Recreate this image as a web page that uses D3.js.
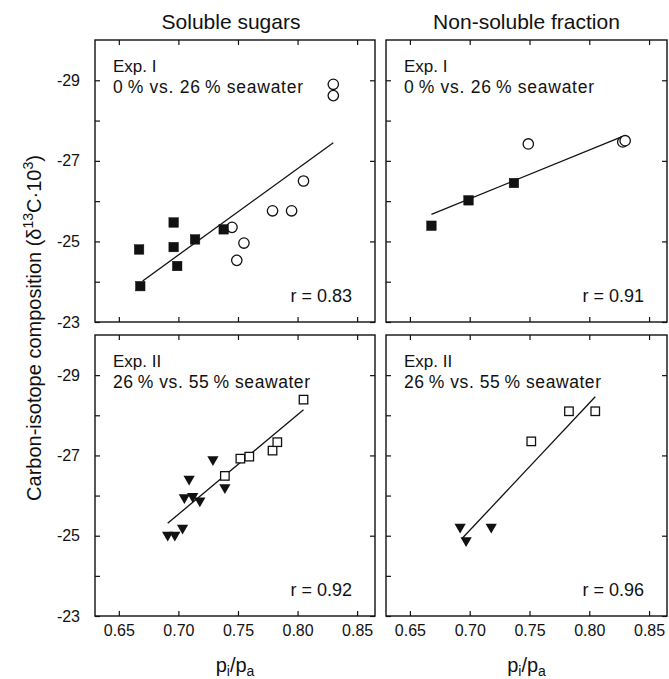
<!DOCTYPE html>
<html><head><meta charset="utf-8">
<script src="https://cdn.jsdelivr.net/npm/d3@7"></script>
<style>body{margin:0;background:#fff}svg{display:block}text{font-family:"Liberation Sans",Arial,sans-serif;fill:#111}</style>
</head><body>
<svg id="c" width="669" height="679"></svg>
<script>
const xTicks = [0.65, 0.70, 0.75, 0.80, 0.85];
const yTicksMajor = [-29, -27, -25, -23];
const yTicksAll = [-29, -28, -27, -26, -25, -24, -23];
const columnTitles = ["Soluble sugars", "Non-soluble fraction"];

// Panel A: Exp I, soluble sugars
const aFilled = [[0.667,-24.80],[0.668,-23.89],[0.696,-25.47],[0.696,-24.86],[0.699,-24.39],[0.714,-25.05],[0.738,-25.30]];
const aOpen = [[0.745,-25.35],[0.755,-24.96],[0.749,-24.53],[0.779,-25.76],[0.795,-25.76],[0.805,-26.50],[0.830,-28.90],[0.830,-28.62]];
const aLine = [[0.670,-24.02],[0.830,-27.45]];
// Panel B: Exp I, non-soluble
const bFilled = [[0.668,-25.39],[0.699,-26.02],[0.737,-26.45]];
const bOpen = [[0.749,-27.42],[0.828,-27.47],[0.830,-27.50]];
const bLine = [[0.668,-25.67],[0.828,-27.61]];
// Panel C: Exp II, soluble sugars
const cFilled = [[0.691,-25.02],[0.697,-25.02],[0.7035,-25.19],[0.705,-25.95],[0.709,-26.41],[0.712,-25.98],[0.718,-25.87],[0.729,-26.90],[0.739,-26.20]];
const cOpen = [[0.739,-26.49],[0.752,-26.92],[0.7595,-26.97],[0.779,-27.12],[0.783,-27.33],[0.805,-28.39]];
const cLine = [[0.691,-25.31],[0.805,-28.14]];
// Panel D: Exp II, non-soluble
const dFilled = [[0.692,-25.22],[0.697,-24.88],[0.718,-25.22]];
const dOpen = [[0.7515,-27.35],[0.783,-28.10],[0.805,-28.10]];
const dLine = [[0.6936,-24.93],[0.805,-28.46]];

const expLabels = [["Exp. I","0\u2009% vs. 26\u2009% seawater"],["Exp. II","26\u2009% vs. 55\u2009% seawater"]];
const rValues = ["r = 0.83","r = 0.91","r = 0.92","r = 0.96"];

const FONT = "Liberation Sans, Arial, sans-serif";
const svg = d3.select("#c");
const colX = [[95,375],[386,667]];
const rowY = [[40,322],[335,616]];
const sublineLen = [190, 197];

const panels = [
  {col:0,row:0,filled:aFilled,open:aOpen,line:aLine,fm:"square",om:"circle",r:rValues[0]},
  {col:1,row:0,filled:bFilled,open:bOpen,line:bLine,fm:"square",om:"circle",r:rValues[1]},
  {col:0,row:1,filled:cFilled,open:cOpen,line:cLine,fm:"tri",om:"square",r:rValues[2]},
  {col:1,row:1,filled:dFilled,open:dOpen,line:dLine,fm:"tri",om:"square",r:rValues[3]}
];

panels.forEach(p => {
  const [x0,x1] = colX[p.col], [y0,y1] = rowY[p.row];
  const x = d3.scaleLinear().domain([0.63,0.865]).range([x0,x1]);
  const y = d3.scaleLinear().domain([-30,-23]).range([y0,y1]);
  const g = svg.append("g");
  g.append("rect").attr("x",x0).attr("y",y0).attr("width",x1-x0).attr("height",y1-y0)
    .attr("fill","none").attr("stroke","#111").attr("stroke-width",1.4);
  const style = s => { s.select(".domain").remove(); s.selectAll("line").attr("stroke","#111").attr("stroke-width",1.2); };
  g.append("g").attr("transform",`translate(0,${y0})`)
    .call(d3.axisTop(x).tickValues(xTicks).tickSizeInner(-5).tickSizeOuter(0).tickFormat("")).call(style);
  const bot = g.append("g").attr("transform",`translate(0,${y1})`)
    .call(d3.axisBottom(x).tickValues(xTicks).tickSizeInner(-5).tickSizeOuter(0).tickPadding(9)
      .tickFormat(p.row===1 ? d3.format(".2f") : "")).call(style);
  bot.selectAll("text").attr("font-size",16).attr("font-family",FONT).attr("fill","#111");
  const left = g.append("g").attr("transform",`translate(${x0},0)`)
    .call(d3.axisLeft(y).tickValues(yTicksAll).tickSizeInner(-5).tickSizeOuter(0).tickPadding(15)
      .tickFormat(d => (p.col===0 && yTicksMajor.includes(d)) ? String(d) : "")).call(style);
  left.selectAll("text").attr("font-size",16).attr("font-family",FONT).attr("fill","#111");
  g.append("g").attr("transform",`translate(${x1},0)`)
    .call(d3.axisRight(y).tickValues(yTicksMajor).tickSizeInner(-5).tickSizeOuter(0).tickFormat("")).call(style);

  // regression line
  g.append("path").datum(p.line).attr("d",d3.line().x(d=>x(d[0])).y(d=>y(d[1])))
    .attr("stroke","#111").attr("stroke-width",1.3).attr("fill","none");

  const draw = (data, kind, filled) => {
    data.forEach(d => {
      const cx = x(d[0]), cy = y(d[1]);
      if (kind === "circle") {
        g.append("circle").attr("cx",cx).attr("cy",cy).attr("r",5.2)
          .attr("fill",filled?"#111":"#fff").attr("stroke","#111").attr("stroke-width",1.3);
      } else if (kind === "square") {
        const s = filled ? 9.5 : 8.5;
        g.append("rect").attr("x",cx-s/2).attr("y",cy-s/2).attr("width",s).attr("height",s)
          .attr("fill",filled?"#111":"#fff").attr("stroke","#111").attr("stroke-width",filled?0.5:1.3);
      } else {
        g.append("path").attr("d",d3.symbol(d3.symbolTriangle,55)())
          .attr("transform",`translate(${cx},${cy}) rotate(180)`).attr("fill","#111");
      }
    });
  };
  draw(p.open, p.om, false);
  draw(p.filled, p.fm, true);

  const el = expLabels[p.row];
  g.append("text").attr("x",x0+18).attr("y",y0+32).attr("font-size",17).text(el[0]);
  g.append("text").attr("x",x0+18).attr("y",y0+53).attr("font-size",17.5)
    .attr("textLength",sublineLen[p.row]).attr("lengthAdjust","spacing").text(el[1]);
  g.append("text").attr("x",x1-23).attr("y",y1-20).attr("text-anchor","end").attr("font-size",18).text(p.r);
});

columnTitles.forEach((t,i) => {
  svg.append("text").attr("x",(colX[i][0]+colX[i][1])/2 - (i===0?4:0)).attr("y",29).attr("text-anchor","middle")
    .attr("font-size",21).text(t);
  const xl = svg.append("text").attr("x",(colX[i][0]+colX[i][1])/2).attr("y",672).attr("text-anchor","middle").attr("font-size",20);
  xl.append("tspan").text("p");
  xl.append("tspan").attr("font-size",14).attr("dy",4).text("i");
  xl.append("tspan").attr("dy",-4).text("/p");
  xl.append("tspan").attr("font-size",14).attr("dy",4).text("a");
});

const yl = svg.append("text").attr("transform","translate(41,328) rotate(-90)").attr("text-anchor","middle").attr("font-size",20);
yl.append("tspan").text("Carbon-isotope composition (δ");
yl.append("tspan").attr("font-size",14).attr("dy",-8).text("13");
yl.append("tspan").attr("dy",8).text("C·10");
yl.append("tspan").attr("font-size",14).attr("dy",-8).text("3");
yl.append("tspan").attr("dy",8).text(")");
</script>
</body></html>
